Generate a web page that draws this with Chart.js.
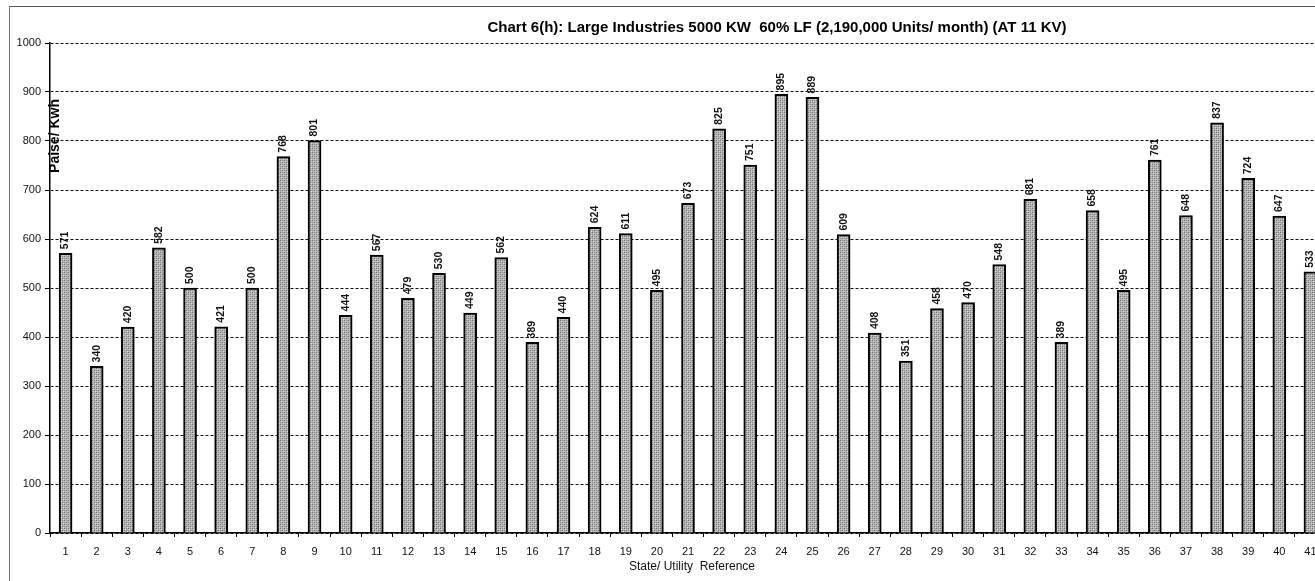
<!DOCTYPE html>
<html>
<head>
<meta charset="utf-8">
<script src="https://cdn.jsdelivr.net/npm/chart.js@4"></script>
<style>
  html, body { margin: 0; padding: 0; background: #fff; overflow: hidden; }
  #wrap { position: relative; width: 1315px; height: 581px; overflow: hidden; }
  #frame { position: absolute; left: 9px; top: 6px; right: 0; bottom: 0;
           border-top: 1px solid #555; border-left: 1px solid #777; }
  #box { position: absolute; left: 0; top: 0; width: 1326px; height: 581px; }
  #myChart { display: block; }
</style>
</head>
<body>
<div id="wrap">
  <div id="frame"></div>
  <div id="box"><canvas id="myChart" width="1326" height="581"></canvas></div>
</div>
<script>
const chartTitle = 'Chart 6(h): Large Industries 5000 KW  60% LF (2,190,000 Units/ month) (AT 11 KV)';
const yTitle = 'Paise/ Kwh';
const xTitle = 'State/ Utility  Reference';

const categories = [];
for (let i = 1; i <= 41; i++) categories.push(String(i));

const values = [571, 340, 420, 582, 500, 421, 500, 768, 801, 444,
                567, 479, 530, 449, 562, 389, 440, 624, 611, 495,
                673, 825, 751, 895, 889, 609, 408, 351, 458, 470,
                548, 681, 389, 658, 495, 761, 648, 837, 724, 647, 533];

const yTicks = [0, 100, 200, 300, 400, 500, 600, 700, 800, 900, 1000];

const FONT = '"Liberation Sans", Arial, sans-serif';

// stippled grey fill like the scanned bars
function makePattern() {
    const c = document.createElement('canvas');
    c.width = 4; c.height = 4;
    const g = c.getContext('2d');
    g.fillStyle = '#b6b6b6';
    g.fillRect(0, 0, 4, 4);
    g.fillStyle = '#6e6e6e';
    g.fillRect(0, 0, 1, 1);
    g.fillRect(2, 2, 1, 1);
    g.fillStyle = '#8e8e8e';
    g.fillRect(2, 0, 1, 1);
    g.fillRect(0, 2, 1, 1);
    g.fillStyle = '#d8d8d8';
    g.fillRect(1, 1, 1, 1);
    g.fillRect(3, 3, 1, 1);
    return g.createPattern(c, 'repeat');
}

const extras = {
    id: 'extras',
    afterDatasetsDraw(chart) {
        const ctx = chart.ctx;
        const meta = chart.getDatasetMeta(0);
        ctx.save();
        ctx.fillStyle = '#111';
        ctx.font = 'bold 10.5px ' + FONT;
        ctx.textAlign = 'left';
        ctx.textBaseline = 'middle';
        meta.data.forEach((bar, i) => {
            ctx.save();
            ctx.translate(bar.x, bar.y - 4);
            ctx.rotate(-Math.PI / 2);
            ctx.fillText(String(values[i]), 0, 0);
            ctx.restore();
        });
        ctx.restore();
    },
    afterDraw(chart) {
        const ctx = chart.ctx;
        const area = chart.chartArea;
        ctx.save();
        ctx.fillStyle = '#000';
        ctx.textAlign = 'center';
        ctx.textBaseline = 'middle';
        ctx.font = 'bold 15px ' + FONT;
        ctx.fillText(chartTitle, 777, 28);

        ctx.fillStyle = '#111';
        ctx.font = '12px ' + FONT;
        ctx.fillText(xTitle, 692, 567);

        ctx.fillStyle = '#000';
        ctx.font = 'bold 14px ' + FONT;
        ctx.translate(area.left + 5, 136);
        ctx.rotate(-Math.PI / 2);
        ctx.fillText(yTitle, 0, 0);
        ctx.restore();
    }
};

const ctx = document.getElementById('myChart').getContext('2d');
new Chart(ctx, {
    type: 'bar',
    data: {
        labels: categories,
        datasets: [{
            data: values,
            backgroundColor: makePattern(),
            borderColor: '#000',
            borderWidth: 2,
            borderSkipped: 'bottom',
            barThickness: 13
        }]
    },
    options: {
        responsive: false,
        animation: false,
        devicePixelRatio: 1,
        layout: { padding: { top: 43, left: 0, right: 0, bottom: 0 } },
        plugins: {
            legend: { display: false },
            tooltip: { enabled: false },
            title: { display: false }
        },
        scales: {
            x: {
                afterFit(scale) { scale.height = 48; },
                grid: {
                    display: true,
                    drawOnChartArea: false,
                    drawTicks: true,
                    tickLength: 4,
                    tickColor: '#000'
                },
                border: { display: true, color: '#000', width: 1.5 },
                ticks: {
                    color: '#111',
                    padding: 8,
                    maxRotation: 0,
                    autoSkip: false,
                    font: { family: FONT, size: 11 }
                }
            },
            y: {
                min: 0,
                max: 1000,
                afterFit(scale) { scale.width = 50; },
                afterBuildTicks(scale) { scale.ticks = yTicks.map(v => ({ value: v })); },
                grid: {
                    color: '#111',
                    lineWidth: 1,
                    drawTicks: true,
                    tickLength: 5,
                    tickColor: '#000'
                },
                border: { display: true, color: '#000', width: 1.5, dash: [3, 2] },
                ticks: {
                    color: '#111',
                    padding: 4,
                    autoSkip: false,
                    callback: v => String(v),
                    font: { family: FONT, size: 11 }
                }
            }
        }
    },
    plugins: [extras]
});
</script>
</body>
</html>
